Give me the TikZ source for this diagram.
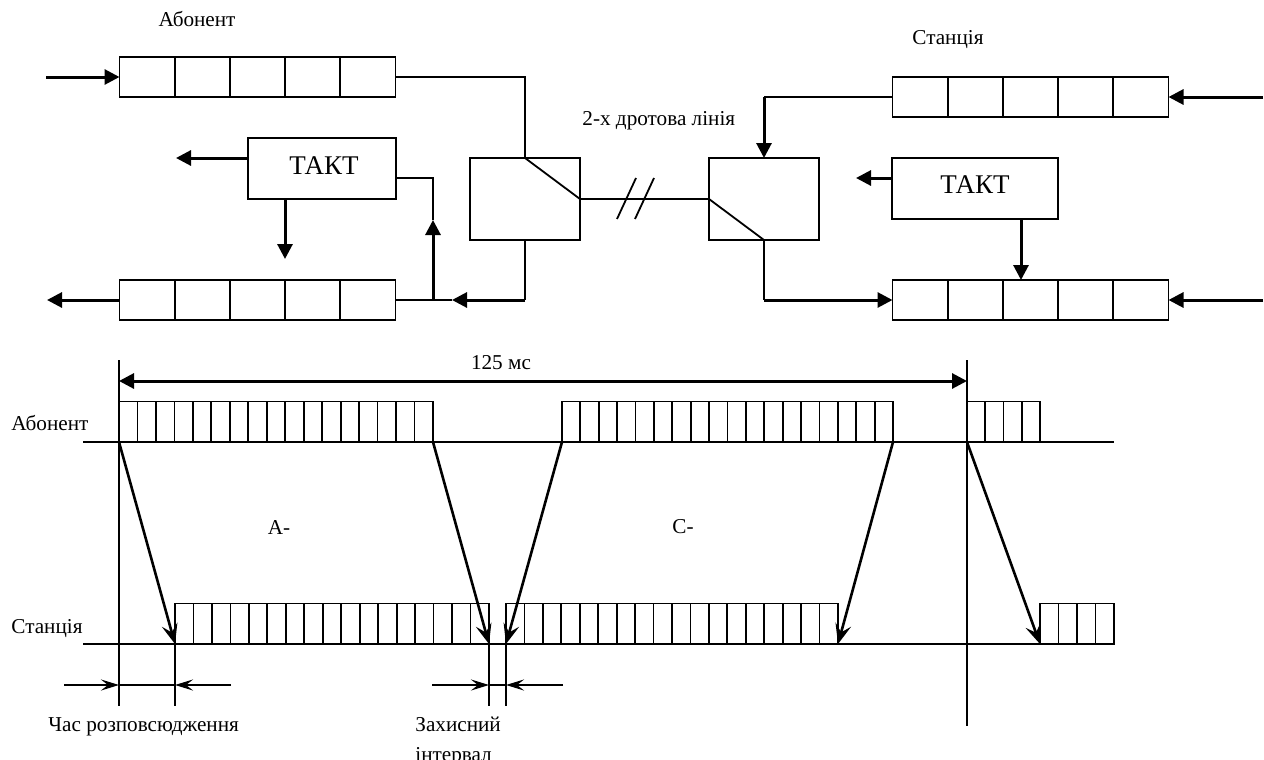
\documentclass[tikz,border=0pt]{standalone}
\usepackage{fontspec}
\setmainfont{Liberation Serif}
\usetikzlibrary{arrows.meta}

\tikzset{
  regbox/.style={draw, line width=0.9pt, minimum width=138pt, minimum height=20pt, inner sep=0pt, outer sep=0pt},
  switchbox/.style={draw, line width=0.9pt, minimum width=55pt, minimum height=41pt, inner sep=0pt, outer sep=0pt},
  taktbox/.style={draw, line width=0.9pt, minimum height=30.5pt, inner sep=0pt, outer sep=0pt},
  slotbox/.style={draw, line width=0.9pt, minimum height=20.3pt, inner sep=0pt, outer sep=0pt, anchor=south west},
  wire/.style={line width=0.9pt},
  flow/.style={line width=1.5pt, -{Triangle[length=7.5pt, width=7.5pt]}},
  prop/.style={line width=1.3pt, -{Stealth[length=10pt, width=8pt, inset=4pt]}},
  dim/.style={line width=1.2pt, -{Stealth[length=9pt, width=5.5pt, inset=3.5pt]}},
  lbl/.style={inner sep=0pt, font=\fontsize{10.6}{15}\selectfont},
  taktlbl/.style={inner sep=0pt, font=\fontsize{13.5}{14}\selectfont},
}

\begin{document}
\begin{tikzpicture}[x=0.5pt, y=-0.5pt]
  \clip (0,0) rectangle (1264,760);
  \fill[white] (0,0) rectangle (1264,760);

  % Abonent side
  \node[lbl] (abonlabel) at (197,19) {Абонент};
  \node[regbox] (regabin) at (257.5,77) {};
  \node[regbox] (regabout) at (257.5,300) {};
  \node[taktbox, minimum width=74pt] (taktab) at (322,168.5) {};
  \node[taktlbl] (taktabtext) at (324,166) {ТАКТ};
  \node[switchbox] (swab) at (525,199) {};
  \coordinate (abinfree) at (46,77);
  \coordinate (aboutfree) at (47,300);
  \coordinate (abclkleft) at (176,158);
  \coordinate (abclkdown) at (285,259);
  \coordinate (abturn) at (525,300);
  \coordinate (abmerge) at (452,300);
  \coordinate (abtap) at (433,300);
  \coordinate (abtaptip) at (433,220);
  \coordinate (abclkout) at (396,178);
  \coordinate (abclkup) at (285,199);
  \coordinate (abclkw) at (248,158);

  % Stantsiya side
  \node[lbl] (stanlabel) at (948,40) {Станція};
  \node[regbox] (regstout) at (1030.5,97) {};
  \node[regbox] (regstin) at (1030.5,300) {};
  \node[taktbox, minimum width=83pt] (taktst) at (975,188.5) {};
  \node[taktlbl] (taktsttext) at (975,185) {ТАКТ};
  \node[switchbox] (swst) at (764,199) {};
  \coordinate (stoutfree) at (1263,97);
  \coordinate (stinfree) at (1263,300);
  \coordinate (stturna) at (764,97);
  \coordinate (stturnb) at (764,300);
  \coordinate (stclkleft) at (856,178);
  \coordinate (stclkw) at (892,178);
  \coordinate (stclkdown) at (1021,219);
  \coordinate (stclktip) at (1021,280);

  % register cells
  \foreach \reg in {regabin,regabout,regstout,regstin}
    \foreach \i in {1,...,4}
      \draw[wire] ([xshift=\i*27.6pt]\reg.south west) -- ([xshift=\i*27.6pt]\reg.north west);

  % Connections, abonent
  \draw[flow] (abinfree) -- (regabin.west);
  \draw[flow] (regabout.west) -- (aboutfree);
  \draw[wire] (regabin.east) -| (swab.north);
  \draw[wire] (swab.north) -- (swab.east);
  \draw[flow] (abclkw) -- (abclkleft);
  \draw[flow] (abclkup) -- (abclkdown);
  \draw[wire] (swab.south) -- (abturn);
  \draw[flow] (abturn) -- (abmerge);
  \draw[wire] (abmerge) -- (regabout.east);
  \draw[flow] (abtap) -- (abtaptip);
  \draw[wire] (abtaptip) |- (abclkout);

  % Connections, stantsiya
  \draw[flow] (stoutfree) -- (regstout.east);
  \draw[flow] (stinfree) -- (regstin.east);
  \draw[wire] (regstout.west) -- (stturna);
  \draw[flow] (stturna) -- (swst.north);
  \draw[wire] (swst.west) -- (swst.south);
  \draw[wire] (swst.south) -- (stturnb);
  \draw[flow] (stturnb) -- (regstin.west);
  \draw[flow] (stclkw) -- (stclkleft);
  \draw[flow] (stclkdown) -- (stclktip);

  % 2-wire line
  \node[lbl, anchor=west] (linelabel) at (582,121) {2-х дротова лінія};
  \draw[wire] (swab.east) -- (swst.west);
  \coordinate (slashabot) at (617,219);
  \coordinate (slashatop) at (636,178);
  \coordinate (slashbbot) at (635,219);
  \coordinate (slashbtop) at (654,178);
  \draw[wire] (slashabot) -- (slashatop);
  \draw[wire] (slashbbot) -- (slashbtop);

  % Timing rows
  \coordinate (abonw) at (83,442);
  \coordinate (abone) at (1114,442);
  \coordinate (stanw) at (83,644);
  \coordinate (stane) at (1114,644);
  \draw[wire] (abonw) -- (abone);
  \draw[wire] (stanw) -- (stane);
  \node[lbl, anchor=west] (abonrow) at (11,423) {Абонент};
  \node[lbl, anchor=west] (stanrow) at (11,629) {Станція};

  \node[slotbox, minimum width=157pt] (absl1) at (119,442) {};
  \node[slotbox, minimum width=165.5pt] (absl2) at (562,442) {};
  \node[slotbox, minimum width=36.5pt] (absl3) at (967,442) {};
  \node[slotbox, minimum width=157pt] (stsl1) at (175,644) {};
  \node[slotbox, minimum width=166pt] (stsl2) at (506,644) {};
  \node[slotbox, minimum width=37pt] (stsl3) at (1040,644) {};
  \foreach \row/\n/\w in {absl1/16/9.235,absl2/17/9.194,absl3/3/9.125,stsl1/16/9.235,stsl2/17/9.222,stsl3/3/9.25}
    \foreach \i in {1,...,\n}
      \draw[wire] ([xshift=\i*\w pt]\row.south west) -- ([xshift=\i*\w pt]\row.north west);

  % Propagation arrows
  \draw[prop] (absl1.south west) -- (stsl1.south west);
  \draw[prop] (absl1.south east) -- (stsl1.south east);
  \draw[prop] (absl2.south west) -- (stsl2.south west);
  \draw[prop] (absl2.south east) -- (stsl2.south east);
  \draw[prop] (absl3.south west) -- (stsl3.south west);

  \node[lbl] (alabel) at (279,527) {А-};
  \node[lbl] (clabel) at (683,527) {С-};

  % Frame markers and 125 ms span
  \coordinate (marklt) at (119,360);
  \coordinate (marklb) at (119,706);
  \coordinate (markrt) at (967,360);
  \coordinate (markrb) at (967,726);
  \draw[wire] (marklt) -- (marklb);
  \draw[wire] (markrt) -- (markrb);
  \coordinate (spanl) at (119,381);
  \coordinate (spanr) at (967,381);
  \draw[line width=1.5pt, {Triangle[length=7.5pt, width=7.5pt]}-{Triangle[length=7.5pt, width=7.5pt]}] (spanl) -- (spanr);
  \node[lbl] (spanlabel) at (501,363) {125 мс};

  % Propagation time and guard interval
  \coordinate (tickb) at (175,706);
  \coordinate (tickc) at (489,706);
  \coordinate (tickd) at (506,706);
  \draw[wire] (stsl1.south west) -- (tickb);
  \draw[wire] (stsl1.south east) -- (tickc);
  \draw[wire] (stsl2.south west) -- (tickd);
  \coordinate (propw) at (64,685);
  \coordinate (propl) at (119,685);
  \coordinate (propr) at (175,685);
  \coordinate (prope) at (231,685);
  \draw[dim] (propw) -- (propl);
  \draw[wire] (propl) -- (propr);
  \draw[dim] (prope) -- (propr);
  \coordinate (guardw) at (432,685);
  \coordinate (guardl) at (489,685);
  \coordinate (guardr) at (506,685);
  \coordinate (guarde) at (563,685);
  \draw[dim] (guardw) -- (guardl);
  \draw[wire] (guardl) -- (guardr);
  \draw[dim] (guarde) -- (guardr);
  \node[lbl, anchor=west] (proplabel) at (48,727) {Час розповсюдження};
  \node[lbl, anchor=north west, align=left] (guardlabel) at (415,717) {Захисний\\інтервал};
\end{tikzpicture}
\end{document}
